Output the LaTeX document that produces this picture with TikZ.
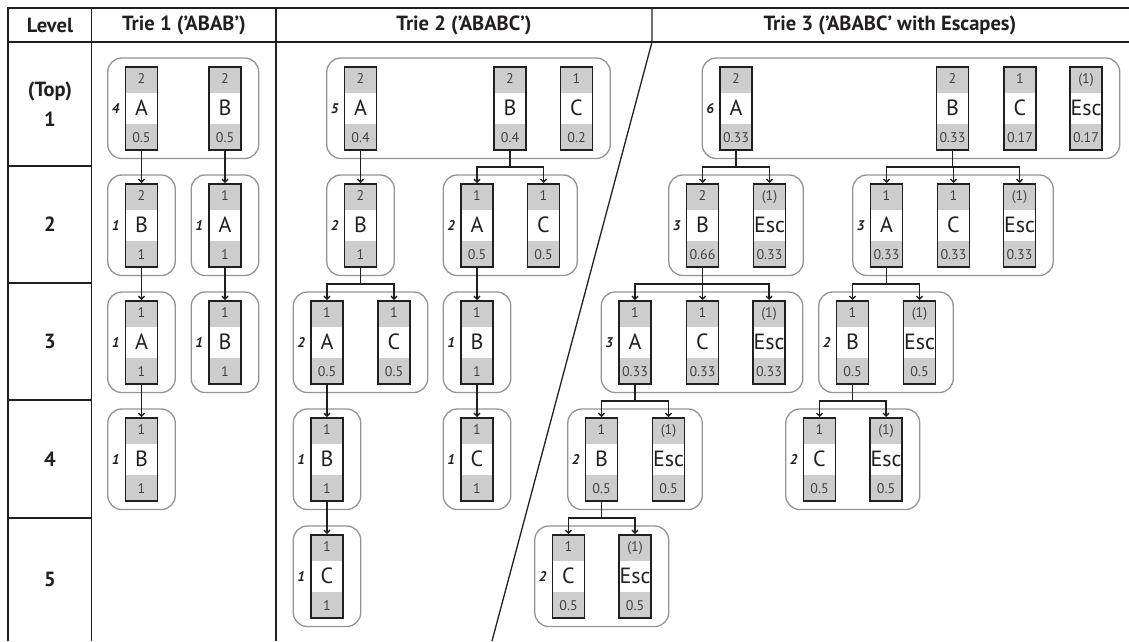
\documentclass[tikz,border=0pt]{standalone}
\usepackage{fontspec}
\setmainfont{PT Sans}
\usetikzlibrary{arrows.meta,fit}

\definecolor{inkdark}{HTML}{231F20}
\definecolor{bandgray}{HTML}{CDCDCD}
\definecolor{groupline}{HTML}{939393}

\tikzset{
  cellbox/.style={draw=inkdark, line width=1.5pt, fill=white, minimum width=32pt,
    minimum height=83pt, inner sep=0pt, text height=15pt, text depth=0pt,
    font=\fontsize{22}{22}\selectfont, text=inkdark,
    path picture={
      \fill[bandgray] (path picture bounding box.north west) rectangle ([yshift=-26pt]path picture bounding box.north east);
      \fill[bandgray] (path picture bounding box.south west) rectangle ([yshift=26pt]path picture bounding box.south east);
    }},
  numtext/.style={font=\fontsize{14}{14}\selectfont, text=inkdark!85, inner sep=0pt,
    text height=9.8pt, text depth=0pt},
  groupbox/.style={draw=groupline, line width=1.3pt, rounded corners=14pt,
    inner xsep=17pt, inner ysep=8pt},
  sumtext/.style={font=\fontsize{14}{14}\selectfont\bfseries\itshape, text=inkdark, inner sep=0pt},
  headtext/.style={font=\fontsize{20.5}{30}\selectfont\bfseries, text=inkdark, align=center},
  link/.style={draw=inkdark, line width=1.3pt, -{Straight Barb[length=3pt,width=6pt]}},
  rule/.style={draw=inkdark, line width=1.3pt},
}

% one trie entry: name, x, top y, count, symbol, probability
\newcommand{\cellnode}[6]{%
  \node[cellbox, anchor=north] (#1) at (#2,#3) {#5};
  \node[numtext] at ([yshift=-13pt]#1.north) {#4};
  \node[numtext] at ([yshift=13pt]#1.south) {#6};
}
% group of entries: name, total, fitted cells
\newcommand{\cellgroup}[3]{%
  \node[groupbox, fit=#3] (#1) {};
  \node[sumtext] at ([xshift=8.5pt]#1.west) {#2};
}
% connectors from a parent to its children
\newcommand{\kids}[2]{\foreach \k in {#2}{\draw[link] (#1.south) -- ++(0,16.5) -| (\k.north);}}

\begin{document}
\begin{tikzpicture}[x=1pt, y=-1pt]
\useasboundingbox (0,0) rectangle (1129,641);

%--------------------
% Table frame
%--------------------
\draw[rule] (8,641) -- (8,8) -- (1129,8);
\draw[rule] (8,42) -- (1129,42);
\draw[rule] (91.5,8) -- (91.5,641);
\draw[rule] (276,8) -- (276,641);
\draw[rule] (652,8) -- (652,42) -- (492,641);
\foreach \y in {166,283,400,518} \draw[rule] (8,\y) -- (91.5,\y);

\node[headtext] (hLevel) at (50,25) {Level};
\node[headtext] (hTrieA) at (184,25) {Trie 1 ('ABAB')};
\node[headtext] (hTrieB) at (464,25) {Trie 2 ('ABABC')};
\node[headtext] (hTrieC) at (890,25) {Trie 3 ('ABABC' with Escapes)};

\node[headtext] (lv1) at (50,104) {(Top)\\1};
\foreach \n/\y in {2/224.5,3/341.5,4/459,5/579} \node[headtext] (lv\n) at (50,\y) {\n};

%--------------------
% Trie 1 ('ABAB')
%--------------------
\cellnode{pA}{141.5}{66}{2}{A}{0.5}
\cellnode{pB}{225}{66}{2}{B}{0.5}
\cellnode{pAB}{141.5}{183}{2}{B}{1}
\cellnode{pBA}{225}{183}{1}{A}{1}
\cellnode{pABA}{141.5}{300}{1}{A}{1}
\cellnode{pBAB}{225}{300}{1}{B}{1}
\cellnode{pABAB}{141.5}{417}{1}{B}{1}

\cellgroup{gp}{4}{(pA)(pB)}
\cellgroup{gpA}{1}{(pAB)}
\cellgroup{gpB}{1}{(pBA)}
\cellgroup{gpAB}{1}{(pABA)}
\cellgroup{gpBA}{1}{(pBAB)}
\cellgroup{gpABA}{1}{(pABAB)}

\kids{pA}{pAB}
\kids{pB}{pBA}
\kids{pAB}{pABA}
\kids{pBA}{pBAB}
\kids{pABA}{pABAB}

%--------------------
% Trie 2 ('ABABC')
%--------------------
\cellnode{qA}{360.5}{66}{2}{A}{0.4}
\cellnode{qB}{510}{66}{2}{B}{0.4}
\cellnode{qC}{576.5}{66}{1}{C}{0.2}
\cellnode{qAB}{360.5}{183}{2}{B}{1}
\cellnode{qBA}{477}{183}{1}{A}{0.5}
\cellnode{qBC}{543.5}{183}{1}{C}{0.5}
\cellnode{qABA}{327}{300}{1}{A}{0.5}
\cellnode{qABC}{394}{300}{1}{C}{0.5}
\cellnode{qBAB}{477}{300}{1}{B}{1}
\cellnode{qABAB}{327}{417}{1}{B}{1}
\cellnode{qBABC}{477}{417}{1}{C}{1}
\cellnode{qABABC}{327}{534}{1}{C}{1}

\cellgroup{gq}{5}{(qA)(qC)}
\cellgroup{gqA}{2}{(qAB)}
\cellgroup{gqB}{2}{(qBA)(qBC)}
\cellgroup{gqAB}{2}{(qABA)(qABC)}
\cellgroup{gqBA}{1}{(qBAB)}
\cellgroup{gqABA}{1}{(qABAB)}
\cellgroup{gqBAB}{1}{(qBABC)}
\cellgroup{gqABAB}{1}{(qABABC)}

\kids{qA}{qAB}
\kids{qB}{qBA,qBC}
\kids{qAB}{qABA,qABC}
\kids{qBA}{qBAB}
\kids{qABA}{qABAB}
\kids{qBAB}{qBABC}
\kids{qABAB}{qABABC}

%--------------------
% Trie 3 ('ABABC' with Escapes)
%--------------------
\cellnode{rA}{736}{66}{2}{A}{0.33}
\cellnode{rB}{952.5}{66}{2}{B}{0.33}
\cellnode{rC}{1020}{66}{1}{C}{0.17}
\cellnode{rE}{1086}{66}{(1)}{Esc}{0.17}
\cellnode{rAB}{702.5}{183}{2}{B}{0.66}
\cellnode{rAE}{769.5}{183}{(1)}{Esc}{0.33}
\cellnode{rBA}{886.5}{183}{1}{A}{0.33}
\cellnode{rBC}{953.5}{183}{1}{C}{0.33}
\cellnode{rBE}{1019.5}{183}{(1)}{Esc}{0.33}
\cellnode{rABA}{635}{300}{1}{A}{0.33}
\cellnode{rABC}{702.5}{300}{1}{C}{0.33}
\cellnode{rABE}{769}{300}{(1)}{Esc}{0.33}
\cellnode{rBAB}{852.5}{300}{1}{B}{0.5}
\cellnode{rBAE}{919.5}{300}{(1)}{Esc}{0.5}
\cellnode{rABAB}{601.5}{417}{1}{B}{0.5}
\cellnode{rABAE}{668.5}{417}{(1)}{Esc}{0.5}
\cellnode{rBABC}{819.5}{417}{1}{C}{0.5}
\cellnode{rBABE}{886}{417}{(1)}{Esc}{0.5}
\cellnode{rABABC}{568.5}{534}{1}{C}{0.5}
\cellnode{rABABE}{635}{534}{(1)}{Esc}{0.5}

\cellgroup{gr}{6}{(rA)(rE)}
\cellgroup{grA}{3}{(rAB)(rAE)}
\cellgroup{grB}{3}{(rBA)(rBE)}
\cellgroup{grAB}{3}{(rABA)(rABE)}
\cellgroup{grBA}{2}{(rBAB)(rBAE)}
\cellgroup{grABA}{2}{(rABAB)(rABAE)}
\cellgroup{grBAB}{2}{(rBABC)(rBABE)}
\cellgroup{grABAB}{2}{(rABABC)(rABABE)}

\kids{rA}{rAB,rAE}
\kids{rB}{rBA,rBC,rBE}
\kids{rAB}{rABA,rABC,rABE}
\kids{rBA}{rBAB,rBAE}
\kids{rABA}{rABAB,rABAE}
\kids{rBAB}{rBABC,rBABE}
\kids{rABAB}{rABABC,rABABE}

\end{tikzpicture}
\end{document}
